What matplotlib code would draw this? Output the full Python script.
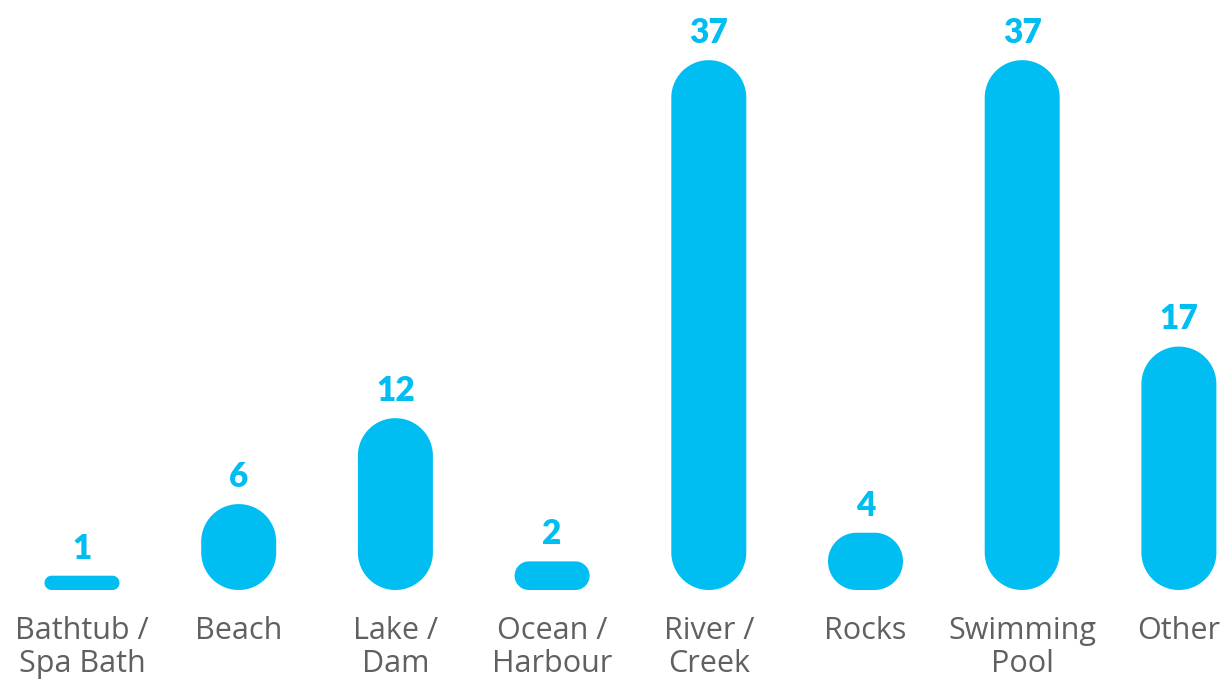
import matplotlib
matplotlib.use("Agg")
import numpy as np
import matplotlib.pyplot as plt
from matplotlib.patches import Polygon

categories = ["Bathtub /\nSpa Bath", "Beach", "Lake /\nDam", "Ocean /\nHarbour",
              "River /\nCreek", "Rocks", "Swimming\nPool", "Other"]
values = [1, 6, 12, 2, 37, 4, 37, 17]

BAR_COLOR = "#00BEF2"
TEXT_GRAY = "#606060"

W, H = 1224, 679
fig = plt.figure(figsize=(W / 100, H / 100), dpi=100)
bottom_px, top_px = 590, 17.2
ax = fig.add_axes([0, (H - bottom_px) / H, 1, (bottom_px - top_px) / H])
ax.set_xlim(-82 / 156.7, (W - 82) / 156.7)
ax.set_ylim(0, 40)
ax.axis("off")

xu_per_px = (ax.get_xlim()[1] - ax.get_xlim()[0]) / W
yu_per_px = 40 / (bottom_px - top_px)

bar_px = 75.0


def stadium(cx, v):
    """Stadium (capsule) outline in data coords for a bar at cx with height v."""
    w = bar_px
    h = v / yu_per_px
    t = np.linspace(0, np.pi, 60)
    if h >= w:
        r = w / 2
        top = np.column_stack([r * np.cos(t), h - r + r * np.sin(t)])
        bot = np.column_stack([-r * np.cos(t), r - r * np.sin(t)])
    else:
        r = h / 2
        tt = np.linspace(-np.pi / 2, np.pi / 2, 60)
        top = np.column_stack([w / 2 - r + r * np.cos(tt), r + r * np.sin(tt)])
        bot = np.column_stack([-(w / 2 - r) - r * np.cos(tt), r - r * np.sin(tt)])
    pts = np.vstack([top, bot])
    return np.column_stack([cx + pts[:, 0] * xu_per_px, pts[:, 1] * yu_per_px])


for i, v in enumerate(values):
    ax.add_patch(Polygon(stadium(i, v), closed=True, facecolor=BAR_COLOR,
                         edgecolor="none"))
    ax.annotate(str(v), xy=(i, v), xytext=(0, 8), textcoords="offset points",
                ha="center", va="bottom", fontsize=24, fontweight="heavy",
                family="Lato", color=BAR_COLOR)
    ax.annotate(categories[i], xy=(i, 0), xytext=(0, -19), textcoords="offset points",
                ha="center", va="top", fontsize=22, family="Open Sans",
                color=TEXT_GRAY, linespacing=1.1, annotation_clip=False)

fig.savefig("out.png", dpi=100)
